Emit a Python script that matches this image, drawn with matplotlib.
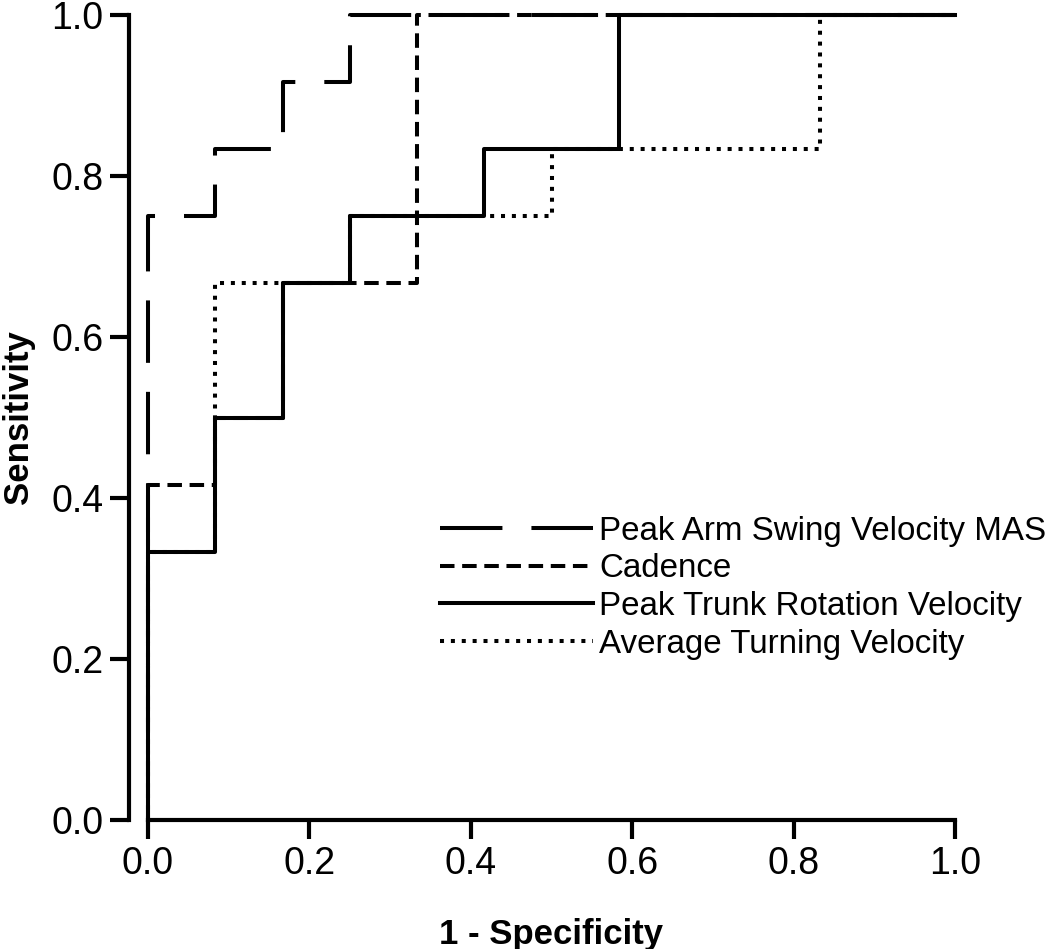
import matplotlib.pyplot as plt

plt.rcParams['font.family'] = ['Liberation Sans', 'DejaVu Sans']

# ROC points (1 - specificity, sensitivity)
arm_x = [0.0, 0.0, 0.0833, 0.0833, 0.1667, 0.1667, 0.25, 0.25, 1.0]
arm_y = [0.0, 0.75, 0.75, 0.8333, 0.8333, 0.9167, 0.9167, 1.0, 1.0]

cad_x = [0.0, 0.0, 0.0833, 0.0833, 0.1667, 0.1667, 0.3333, 0.3333, 1.0]
cad_y = [0.0, 0.4167, 0.4167, 0.5, 0.5, 0.6667, 0.6667, 1.0, 1.0]

trunk_x = [0.0, 0.0, 0.0833, 0.0833, 0.1667, 0.1667, 0.25, 0.25, 0.4167, 0.4167, 0.5833, 0.5833, 1.0]
trunk_y = [0.0, 0.3333, 0.3333, 0.5, 0.5, 0.6667, 0.6667, 0.75, 0.75, 0.8333, 0.8333, 1.0, 1.0]

turn_x = [0.0, 0.0, 0.0833, 0.0833, 0.25, 0.25, 0.5, 0.5, 0.8333, 0.8333, 1.0]
turn_y = [0.0, 0.3333, 0.3333, 0.6667, 0.6667, 0.75, 0.75, 0.8333, 0.8333, 1.0, 1.0]

labels = ['Peak Arm Swing Velocity MAS', 'Cadence',
          'Peak Trunk Rotation Velocity', 'Average Turning Velocity']
ticks = [0.0, 0.2, 0.4, 0.6, 0.8, 1.0]

fig = plt.figure(figsize=(10.5, 9.49), dpi=100)
ax = fig.add_axes([148 / 1050, 1 - 820 / 949, 807 / 1050, 805 / 949])

lw = 2.9
l_arm, = ax.plot(arm_x, arm_y, color='black', lw=lw, dashes=(15.5, 7.2),
                 clip_on=False, zorder=3, solid_capstyle='butt')
l_cad, = ax.plot(cad_x, cad_y, color='black', lw=lw, dashes=(3.6, 1.9),
                 clip_on=False, zorder=2)
l_turn, = ax.plot(turn_x, turn_y, color='black', lw=lw, dashes=(1.0, 1.7),
                  clip_on=False, zorder=2)
l_trunk, = ax.plot(trunk_x, trunk_y, color='black', lw=lw,
                   clip_on=False, zorder=4)

ax.set_xlim(0, 1)
ax.set_ylim(0, 1)
ax.set_xticks(ticks)
ax.set_yticks(ticks)
ax.set_xticklabels(['%.1f' % t for t in ticks])
ax.set_yticklabels(['%.1f' % t for t in ticks])

for s in ['top', 'right']:
    ax.spines[s].set_visible(False)
for s in ['left', 'bottom']:
    ax.spines[s].set_linewidth(3)
ax.spines['left'].set_position(('outward', 13.5))

ax.tick_params(direction='out', length=13.5, width=3, labelsize=27, pad=5)

ax.set_xlabel('1 - Specificity', fontsize=25, fontweight='bold', labelpad=26)
ax.set_ylabel('Sensitivity', fontsize=25, fontweight='bold', labelpad=12)

ax.legend([l_arm, l_cad, l_trunk, l_turn], labels, loc='upper left',
          bbox_to_anchor=(0.362, 0.378), frameon=False, fontsize=23.9,
          handlelength=4.6, handletextpad=0.2, labelspacing=0.2,
          borderpad=0, borderaxespad=0)

fig.savefig('out.png', dpi=100)
